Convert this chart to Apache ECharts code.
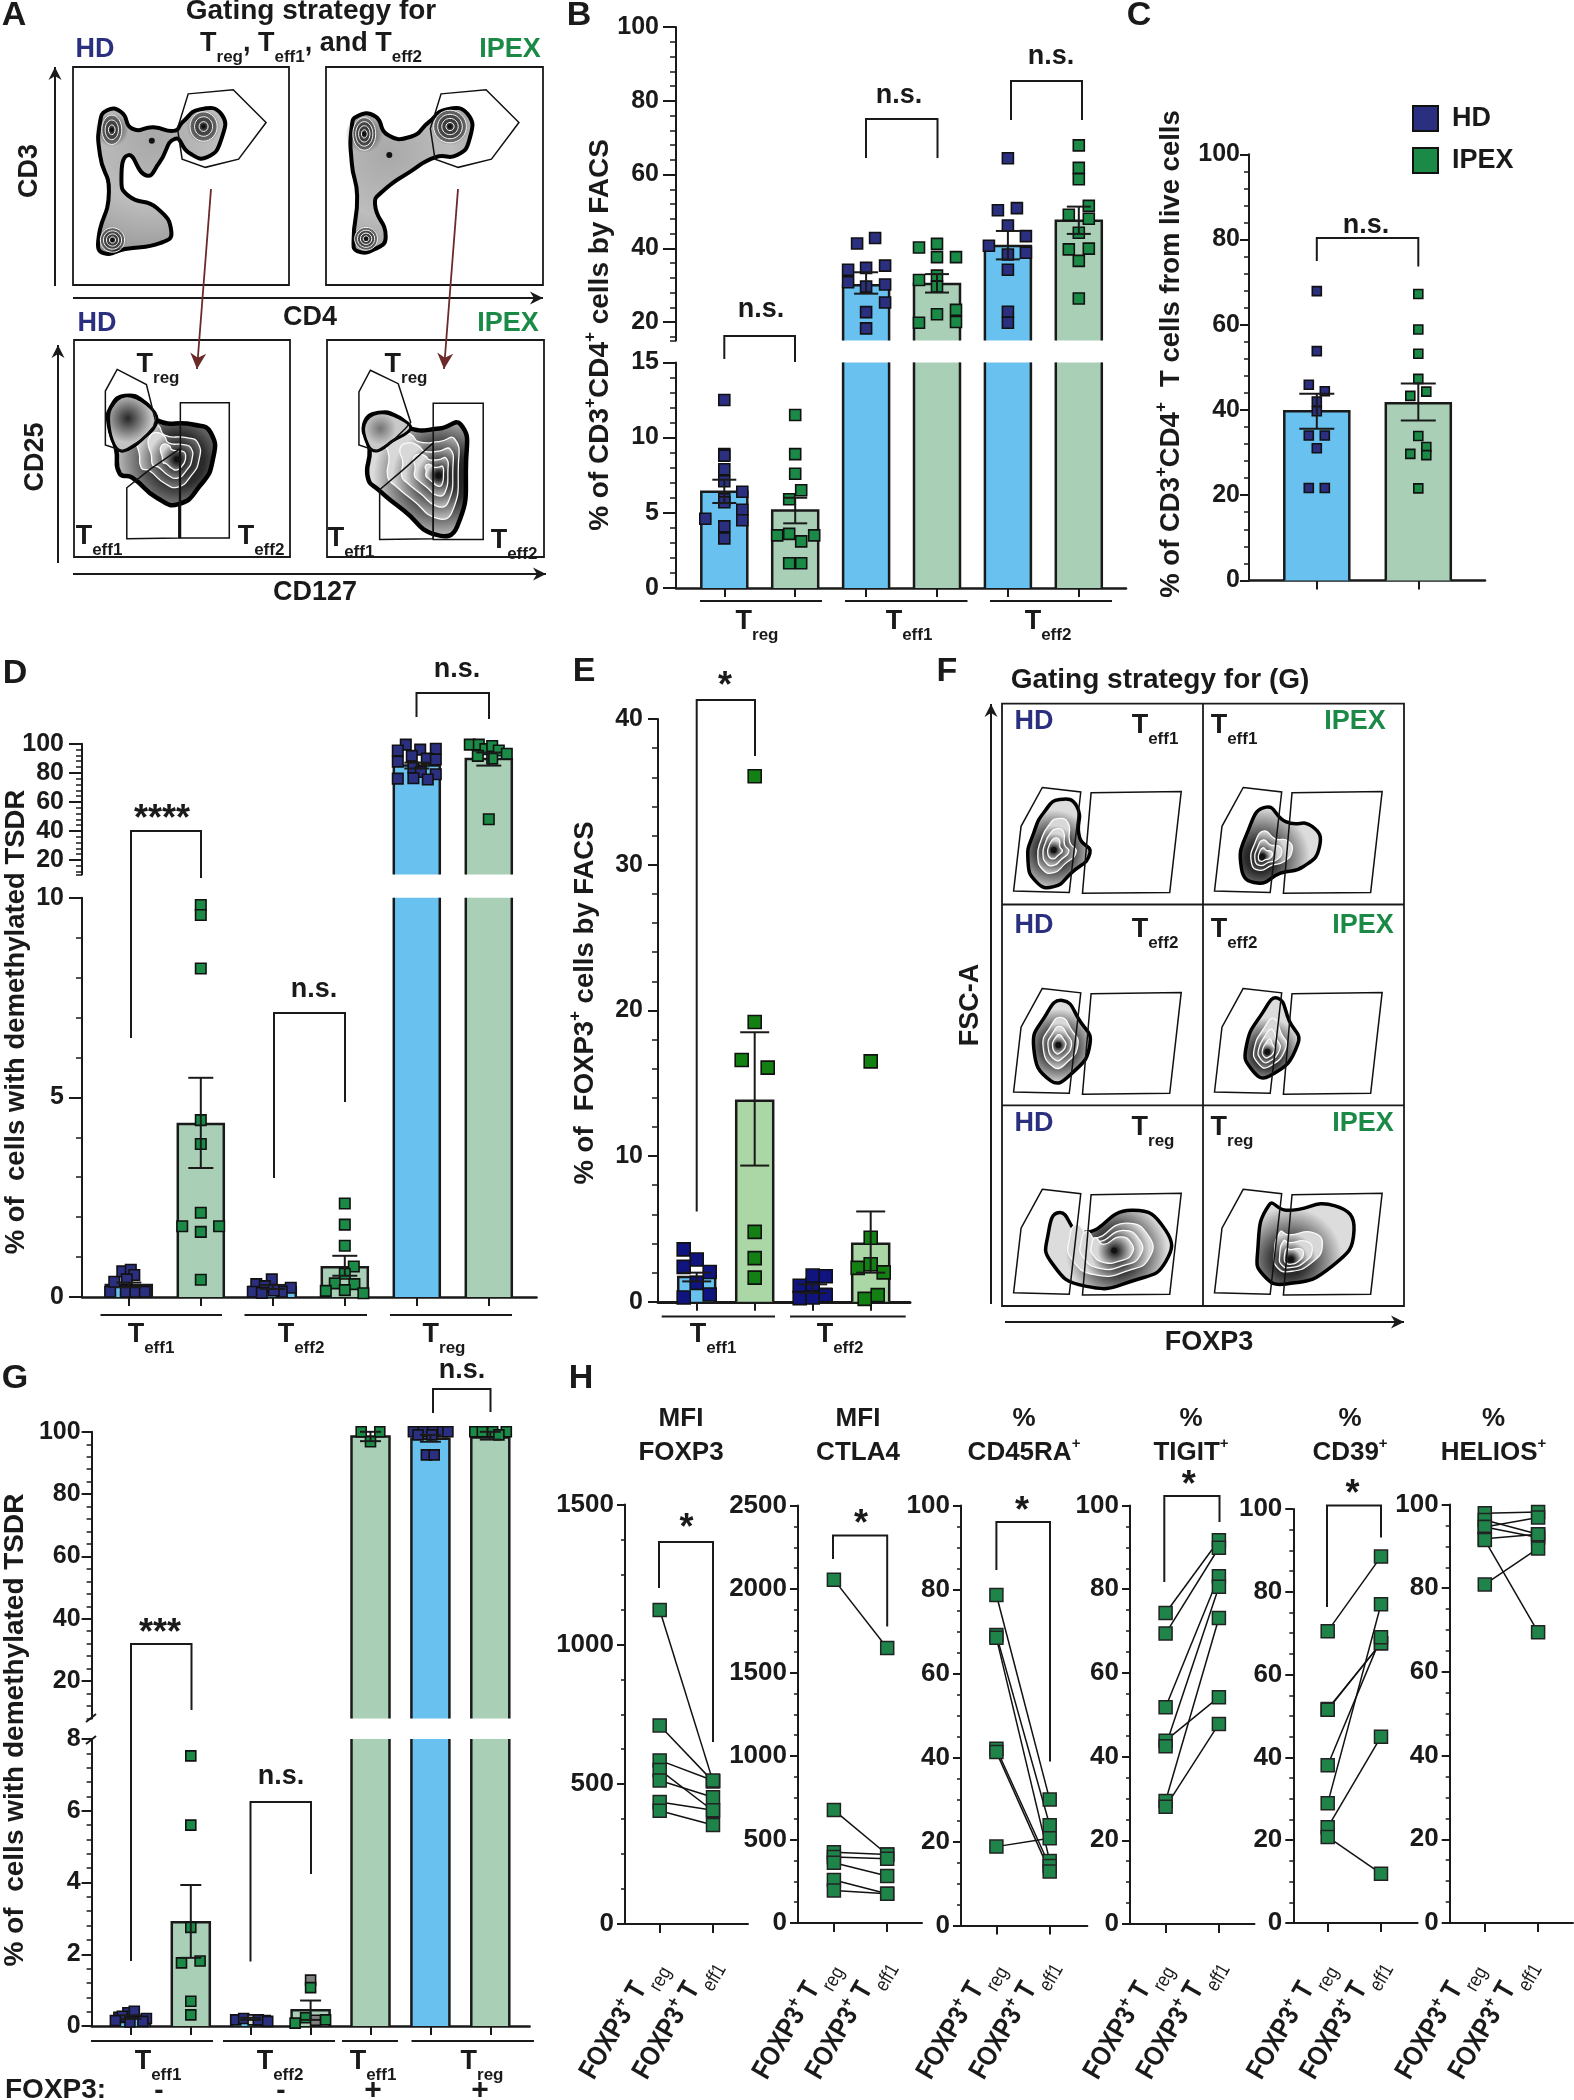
<!DOCTYPE html>
<html><head><meta charset="utf-8"><style>html,body{margin:0;padding:0;background:#fff}#c{width:1574px;height:2100px}</style>
<script src="https://cdn.jsdelivr.net/npm/echarts@6/dist/echarts.min.js"></script></head>
<body><div id="c"></div>
<script>
// ---------- data ----------
const B_Treg_HD=[12.5,8.9,8.8,7.9,7.1,5.9,5.7,6.4,5.2,4.5,4.6,4.1,3.3];
const B_Treg_HD_jit=[0,0,0,0,0,0,0,18,18,18,-19,0,0];
const B_Treg_IPEX=[11.5,8.9,7.6,6.5,5.9,3.5,3.6,3.5,3.1,1.65,1.65];
const B_Treg_IPEX_jit=[0,0,0,6,-6,-18,-6,19,6,-6,6];
const B_Teff1_HD=[41.3,42.8,34.2,34.7,35.3,30.8,29.6,30.2,25.3,22.7,18.3];
const B_Teff1_HD_jit=[-9,9,-18,0,19,-18,0,19,19,0,0];
const B_Teff1_IPEX=[40.2,41.2,37.6,37.6,32.6,31.4,29.6,23.3,22.1,20,19.8];
const B_Teff1_IPEX_jit=[-18,0,0,19,0,-18,0,19,0,19,-18];
const B_Teff2_HD=[64.4,50.3,50.9,46.2,43.3,40.7,38.8,38.3,34.2,22.8,19.8];
const B_Teff2_HD_jit=[0,-10,9,0,18,-19,18,0,0,0,0];
const B_Teff2_IPEX=[67.9,61.8,58.7,51.5,49.1,48,44.2,39.7,39.9,36.6,26.4];
const B_Teff2_IPEX_jit=[0,0,0,10,-10,10,0,-10,10,0,0];
const B_stats=[[6.4,7.2,5.65],[5.16,6,4.3],[30,33.5,27.7],[30.3,33,28],[40.6,44.7,37],[47.5,51.3,43.9]];

const C_HD=[67.9,53.8,45.9,44.4,42,39.7,34,34,31,21.7,21.7];
const C_HD_jit=[0,0,-8,8,0,0,-8,8,0,-8,8];
const C_IPEX=[67.2,58.9,53.2,47.3,44.3,43.3,33.9,31.3,29.7,29.4,21.6];
const C_IPEX_jit=[0,0,0,0,8,-8,0,8,-8,8,0];
const C_stats=[[39.7,43.8,35.6],[41.6,46.2,37.5]];

const D_Teff1_HD=[.13,.38,.64,.68,.55,.44,.13,.13,.13];
const D_Teff1_HD_jit=[-18.6,-14.5,-6.5,2,5.5,-2,-3,6.5,16];
const D_Teff1_IPEX=[9.82,9.57,8.23,4.43,3.83,2.11,1.77,1.77,1.63,.43];
const D_Teff1_IPEX_jit=[0,0,0,0,0,0,-18.6,18.3,0,0];
const D_Teff2_HD=[.32,.44,.27,.23,.13,.1,.13,.16];
const D_Teff2_HD_jit=[-16.5,-1,-8,18,-20,-11,9,1];
const D_Teff2_IPEX=[2.34,1.81,1.28,.76,.58,.34,.32,.17,.15,.09];
const D_Teff2_IPEX_jit=[0,0,0,9,0,-10,9.6,0,-19,18.6];
const D_Treg_HD=[99.4,95.4,96,96.6,91.7,87.7,89.8,89.2,83.7,80.6,79,76,76.3,75.4];
const D_Treg_HD_jit=[-11,-19,3.4,19,-5,-19,10,19,-3.4,4,19,-19,-3.4,11];
const D_Treg_IPEX=[99.4,99.4,96.3,98.5,95.4,93.2,91.7,89.8,48];
const D_Treg_IPEX_jit=[-19,-10,-3.4,3.4,10,18,-11,3.4,0];
const D_stats=[[.3,.36,.24],[4.33,5.49,3.23],[.25,.3,.2],[.74,1.03,.53],[85,87,83],[89.5,94,85]];

const E_Teff1_HD=[3.6,2.9,2.4,2.05,1.3,.3,.5];
const E_Teff1_HD_jit=[-13,0,-13,13,0,-13,13];
const E_Teff1_IPEX=[36.07,19.2,16.6,16.07,4.8,3,1.66];
const E_Teff1_IPEX_jit=[0,0,-13,13,0,0,0];
const E_Teff2_HD=[1.1,1.2,1.75,1.8,.25,.45,.3];
const E_Teff2_HD_jit=[-13,0,13,0,-13,13,0];
const E_Teff2_IPEX=[16.5,4.4,2.33,2.58,2.02,.46,.2];
const E_Teff2_IPEX_jit=[0,0,-13,0,13,7,-6];
const E_stats=[[1.7,2.0,1.4],[13.8,18.5,9.35],[.9,1.2,.6],[3.99,6.2,2]];

const G_Teff1_HD=[.24,.37,.41,.27,.21,.11,.13,.15];
const G_Teff1_HD_jit=[-12,-3,3.4,-8.6,15.5,-1,12,-15.5];
const G_Teff1_IPEX=[7.53,5.6,2.75,1.81,1.76,.69,.31];
const G_Teff1_IPEX_jit=[0,0,0,9.3,-9.3,0,0];
const G_Teff2_HD=[.17,.21,.17,.15,.17,.13];
const G_Teff2_HD_jit=[-15,-7,2.4,14.5,7.6,17];
const G_Teff2_IPEX=[1.28,1.07,.23,.08,.16,.17];
const G_Teff2_IPEX_jit=[0,0,-5,-15.5,5,15];
const G_Teff1p_IPEX=[100,100,96.8];
const G_Teff1p_IPEX_jit=[-9.3,9.3,0];
const G_Treg_HD=[100,100,100,100,100,99,99,92.6,92.6];
const G_Treg_HD_jit=[-17,-7,2.4,12.4,17.5,-12.4,1.4,-4,3.8];
const G_Treg_IPEX=[100,100,100,100,99];
const G_Treg_IPEX_jit=[-15.5,-8,2.4,16,8.6];
const G_stats=[[.25,.3,.2],[2.89,3.93,1.9],[.2,.23,.17],[.44,.71,.17],[98.5,100,97],[97.8,99,96.8],[98.2,100,97.5]];

const H_FOXP3_Treg=[1123,710,585,551,513,436,405];
const H_FOXP3_Teff1=[510,510,513,405,453,407,354];
const H_CTLA4_Treg=[2056,676,424,395,361,258,195];
const H_CTLA4_Teff1=[1647,410,410,385,281,175,175];
const H_CD45RA_Treg=[78.7,69.2,68.5,42.1,41.3,18.8];
const H_CD45RA_Teff1=[30,23.9,15.4,14.2,12.9,20.8];
const H_TIGIT_Treg=[74.3,69.4,51.8,43.8,42.5,29.4,28];
const H_TIGIT_Teff1=[91.7,89.9,83.1,54.2,80.6,73.1,47.8];
const H_CD39_Treg=[70.5,51.7,51.5,38.1,28.9,23.1,20.8];
const H_CD39_Teff1=[88.5,67.6,67.6,69,77,45,11.9];
const H_HELIOS_Treg=[97.9,96.3,94.6,94.6,91.8,91.5,80.9];
const H_HELIOS_Teff1=[98.2,92.9,96.9,92.1,92.9,69.5,89.5];

const ticks20=[20,40,60,80,100], ticks0_100=[0,20,40,60,80,100];
const FONT='"Liberation Sans",Arial,sans-serif', INK='#1a1a1a';
const BLUE='#2b2f7f', GREEN='#1b8a47';
const BAR={HD:'#68c1ef',IPEX:'#a9d0b6'};
const range=(a,b,s,skip)=>{const r=[];for(let v=a;v<=b+1e-9;v+=s){const q=+v.toFixed(3);if(!skip||Math.abs(q/skip-Math.round(q/skip))>1e-6)r.push(q)}return r};

// ---------- option builders ----------
const grid=[],xAxis=[],yAxis=[],series=[];
const lineS={color:INK,width:2};
function axes(p,seg,xticks){
  const gi=grid.length;
  grid.push({left:p.left,width:p.right-p.left,top:seg.top,height:seg.bottom-seg.top});
  const xmin=(p.left-p.c0)/p.band,xmax=(p.right-p.c0)/p.band;
  xAxis.push({type:'value',gridIndex:gi,min:xmin,max:xmax,position:'bottom',
    axisLine:{show:!!seg.base,onZero:false,lineStyle:{color:INK,width:p.baseW||2.5}},
    axisTick:{show:!!seg.base,length:9,customValues:xticks,lineStyle:{color:INK,width:2}},
    axisLabel:{show:false},splitLine:{show:false}});
  const ya=yAxis.length;
  yAxis.push({type:'value',gridIndex:gi,min:seg.min,max:seg.max,position:'left',
    axisLine:{show:true,onZero:false,lineStyle:lineS},
    axisTick:{show:true,length:p.tick||13,customValues:seg.majors,lineStyle:lineS},
    axisLabel:{show:true,customValues:seg.majors,margin:p.margin||17,fontSize:p.fs||25,fontWeight:'bold',fontFamily:FONT,color:INK,hideOverlap:false,
      padding:[p.lpad||0,0,0,0],formatter:v=>String(v)},
    splitLine:{show:false}});
  yAxis.push({type:'value',gridIndex:gi,min:seg.min,max:seg.max,position:'left',
    axisLine:{show:false,onZero:false},
    axisTick:{show:true,length:p.mtick||6,customValues:seg.minors,lineStyle:{color:INK,width:1.5}},
    axisLabel:{show:false},splitLine:{show:false}});
  return {gi,ya};
}
function barPanel(p){
  const xticks=p.groups.map((_,i)=>i);
  p.segs.forEach(seg=>{
    const {gi,ya}=axes(p,seg,xticks);
    const inSeg=v=>v>=seg.min&&v<=seg.max;
    const ax={xAxisIndex:gi,yAxisIndex:ya};
    series.push({type:'bar',...ax,barWidth:p.barW,clip:true,silent:true,z:2,name:'bars',
      data:p.groups.map((g,i)=>({value:[i,g.stat[0]],itemStyle:{color:(p.barCol||BAR)[g.kind]}}))});
    series.push({type:'custom',...ax,z:3,clip:false,silent:true,name:'bar outline',
      data:p.groups.map((g,i)=>[i,g.stat[0]]),encode:{x:0,y:1},
      renderItem:(params,api)=>{
        const c=api.coord([api.value(0),api.value(1)]),cs=params.coordSys,b=cs.y+cs.height,h=p.barW/2;
        const st={fill:null,stroke:INK,lineWidth:2.5};
        if(c[1]>b)return null;
        if(c[1]>=cs.y)return {type:'polyline',shape:{points:[[c[0]-h,b],[c[0]-h,c[1]],[c[0]+h,c[1]],[c[0]+h,b]]},style:st};
        return {type:'group',children:[
          {type:'line',shape:{x1:c[0]-h,y1:cs.y,x2:c[0]-h,y2:b},style:st},
          {type:'line',shape:{x1:c[0]+h,y1:cs.y,x2:c[0]+h,y2:b},style:st}]};
      }});
    ['HD','IPEX'].forEach(kind=>{
      const pts=[];
      p.groups.forEach((g,i)=>{if(g.kind===kind)g.v.forEach((v,k)=>{if(inSeg(v)){
        const d={value:[i+g.j[k]/p.band,v]};
        if(g.grey&&g.grey[k])d.itemStyle={color:g.grey[k]};
        pts.push(d)}})});
      if(pts.length)series.push({type:'scatter',name:kind,...ax,clip:false,z:4,symbol:'rect',symbolSize:p.ms,data:pts,silent:true,
        itemStyle:{color:kind==='HD'?(p.colHD||BLUE):(p.colIPEX||GREEN),borderColor:'#111',borderWidth:1.6,opacity:1}});
    });
    series.push({type:'custom',...ax,z:5,clip:false,silent:true,name:'mean and SEM',
      data:p.groups.map((g,i)=>[i,g.stat[0],g.stat[1],g.stat[2]]).filter(d=>inSeg(d[1])),encode:{x:0,y:[1,2,3]},
      renderItem:(params,api)=>{
        const hi=api.coord([api.value(0),api.value(2)]),lo=api.coord([api.value(0),api.value(3)]),w=p.cap/2;
        const st={stroke:INK,lineWidth:2,fill:null};
        return {type:'group',children:[
          {type:'line',shape:{x1:hi[0],y1:hi[1],x2:lo[0],y2:lo[1]},style:st},
          {type:'line',shape:{x1:hi[0]-w,y1:hi[1],x2:hi[0]+w,y2:hi[1]},style:st},
          {type:'line',shape:{x1:lo[0]-w,y1:lo[1],x2:lo[0]+w,y2:lo[1]},style:st}]};
      }});
  });
}
function pairPanel(p,a,b){
  const seg={top:p.top,bottom:p.bottom,min:0,max:p.max,majors:p.majors,minors:p.minors,base:true};
  const {gi,ya}=axes(p,seg,[0,1]);
  a.forEach((v,i)=>series.push({type:'line',name:p.name+' donor '+(i+1),xAxisIndex:gi,yAxisIndex:ya,clip:false,silent:true,z:3,
    data:[[0,v],[1,b[i]]],symbol:'rect',symbolSize:13,showSymbol:true,showAllSymbol:true,
    lineStyle:{color:'#111',width:1.5},itemStyle:{color:'#1e8449',borderColor:'#222',borderWidth:1.5}}));
}
const grp=(kind,v,j,stat,grey)=>({kind,v,j,stat,grey});

barPanel({left:676,right:1126,c0:724.3,band:70.9,barW:46,ms:11,cap:24,lpad:4,
  segs:[{top:27,bottom:340.5,min:15,max:100,majors:ticks20,minors:[15].concat(range(16,96,4,20))},
        {top:362.4,bottom:588,min:0,max:15,majors:[0,5,10,15],minors:range(1,14,1,5),base:true}],
  groups:[grp('HD',B_Treg_HD,B_Treg_HD_jit,B_stats[0]),grp('IPEX',B_Treg_IPEX,B_Treg_IPEX_jit,B_stats[1]),
    grp('HD',B_Teff1_HD,B_Teff1_HD_jit,B_stats[2]),grp('IPEX',B_Teff1_IPEX,B_Teff1_IPEX_jit,B_stats[3]),
    grp('HD',B_Teff2_HD,B_Teff2_HD_jit,B_stats[4]),grp('IPEX',B_Teff2_IPEX,B_Teff2_IPEX_jit,B_stats[5])]});
barPanel({left:1249,right:1485,c0:1316.8,band:101.5,barW:65,ms:9,cap:35,tick:9,mtick:5,margin:9,lpad:6,
  segs:[{top:154.3,bottom:580.4,min:0,max:100,majors:ticks0_100,minors:range(4,96,4,20),base:true}],
  groups:[grp('HD',C_HD,C_HD_jit,C_stats[0]),grp('IPEX',C_IPEX,C_IPEX_jit,C_stats[1])]});
barPanel({left:82,right:536.5,c0:128.8,band:72,barW:46,ms:10.5,cap:25,margin:18,
  segs:[{top:743.8,bottom:874.5,min:10,max:100,majors:ticks20,minors:[10].concat(range(12,96,4,20))},
        {top:897.8,bottom:1296.9,min:0,max:10,majors:[0,5,10],minors:range(1,9,1,5),base:true}],
  groups:[grp('HD',D_Teff1_HD,D_Teff1_HD_jit,D_stats[0]),grp('IPEX',D_Teff1_IPEX,D_Teff1_IPEX_jit,D_stats[1]),
    grp('HD',D_Teff2_HD,D_Teff2_HD_jit,D_stats[2]),grp('IPEX',D_Teff2_IPEX,D_Teff2_IPEX_jit,D_stats[3]),
    grp('HD',D_Treg_HD,D_Treg_HD_jit,D_stats[4]),grp('IPEX',D_Treg_IPEX,D_Treg_IPEX_jit,D_stats[5])]});
barPanel({left:658,right:910,c0:696.7,band:58,barW:37,ms:13,cap:29,tick:10,margin:15,baseW:3,colHD:'#10147f',colIPEX:'#138013',
  barCol:{HD:'#68c1ef',IPEX:'#aad7a5'},
  segs:[{top:719,bottom:1301.8,min:0,max:40,majors:[0,10,20,30,40],minors:range(2,38,2,10),base:true}],
  groups:[grp('HD',E_Teff1_HD,E_Teff1_HD_jit,E_stats[0]),grp('IPEX',E_Teff1_IPEX,E_Teff1_IPEX_jit,E_stats[1]),
    grp('HD',E_Teff2_HD,E_Teff2_HD_jit,E_stats[2]),grp('IPEX',E_Teff2_IPEX,E_Teff2_IPEX_jit,E_stats[3])]});
barPanel({left:91.6,right:529.6,c0:130.9,band:59.9,barW:38,ms:10,cap:21,tick:10,mtick:5,margin:11,
  segs:[{top:1431.8,bottom:1718.4,min:8,max:100,majors:ticks20,minors:range(8,96,4,20)},
        {top:1739,bottom:2026,min:0,max:8,majors:[0,2,4,6,8],minors:range(.4,7.6,.4,2),base:true}],
  groups:[grp('HD',G_Teff1_HD,G_Teff1_HD_jit,G_stats[0]),grp('IPEX',G_Teff1_IPEX,G_Teff1_IPEX_jit,G_stats[1]),
    grp('HD',G_Teff2_HD,G_Teff2_HD_jit,G_stats[2],{2:'#d8d8d8'}),grp('IPEX',G_Teff2_IPEX,G_Teff2_IPEX_jit,G_stats[3],{0:'#808080',4:'#808080'}),
    grp('IPEX',G_Teff1p_IPEX,G_Teff1p_IPEX_jit,G_stats[4]),grp('HD',G_Treg_HD,G_Treg_HD_jit,G_stats[5]),grp('IPEX',G_Treg_IPEX,G_Treg_IPEX_jit,G_stats[6])]});

const m1500=range(125,1375,125,500), m2500=range(125,2375,125,500), m100=range(5,95,5,20);
const hp={band:53.3,tick:8,mtick:4,margin:11,fs:26,baseW:2,lpad:4};
pairPanel({...hp,name:'FOXP3',left:625,right:748,c0:659.7,top:1504.5,bottom:1924,max:1500,majors:[0,500,1000,1500],minors:m1500},H_FOXP3_Treg,H_FOXP3_Teff1);
pairPanel({...hp,name:'CTLA4',left:798,right:922,c0:833.9,top:1505.5,bottom:1923,max:2500,majors:[0,500,1000,1500,2000,2500],minors:m2500},H_CTLA4_Treg,H_CTLA4_Teff1);
pairPanel({...hp,name:'CD45RA',left:961,right:1087.4,c0:996.4,top:1505.5,bottom:1925.6,max:100,majors:ticks0_100,minors:m100},H_CD45RA_Treg,H_CD45RA_Teff1);
pairPanel({...hp,name:'TIGIT',left:1130,right:1254.5,c0:1165.6,top:1505.5,bottom:1924,max:100,majors:ticks0_100,minors:m100},H_TIGIT_Treg,H_TIGIT_Teff1);
pairPanel({...hp,name:'CD39',left:1293.3,right:1417.6,c0:1327.7,top:1509,bottom:1923,max:100,majors:ticks0_100,minors:m100},H_CD39_Treg,H_CD39_Teff1);
pairPanel({...hp,name:'HELIOS',left:1449.7,right:1573,c0:1484.8,top:1504.5,bottom:1923,max:100,majors:ticks0_100,minors:m100},H_HELIOS_Treg,H_HELIOS_Teff1);

// ---------- annotations ----------
const G=[];
const Z=20;
function tx(x,y,text,o={}){
  G.push({type:'text',x,y,rotation:o.rot||0,scaleX:o.scaleX||1,z:Z+2,silent:true,style:{text,fontSize:o.size||25,fontWeight:o.weight||'bold',fontFamily:FONT,
    fill:o.color||INK,align:o.align||'center',verticalAlign:o.va||'middle',rich:o.rich}});
}
const richOf=(size,subS,color,weight)=>({
  b:{fontSize:size,fontWeight:weight||'bold',fontFamily:FONT,fill:color||INK},
  s:{fontSize:subS,fontWeight:weight||'bold',fontFamily:FONT,fill:color||INK,padding:[Math.round(size*.95),0,0,0]},
  u:{fontSize:subS,fontWeight:weight||'bold',fontFamily:FONT,fill:color||INK,padding:[0,0,Math.round(size*.7),0]}});
function Tsub(x,y,sub,o={}){const size=o.size||27;tx(x,y,`{b|T}{s|${sub}}`,{...o,rich:richOf(size,o.sub||17)})}
function ln(pts,w,col){G.push({type:'polyline',z:Z,silent:true,shape:{points:pts},style:{stroke:col||INK,lineWidth:w||2,fill:null}})}
function bracket(x1,x2,top,yl,yr,label,lx,ly,o={}){ln([[x1,yl],[x1,top],[x2,top],[x2,yr]],2);tx(lx,ly,label,{size:label[0]==='n'?27:36,...o})}
function arrow(x1,y1,x2,y2,col,w,h){ln([[x1,y1],[x2,y2]],w||2,col);const a=Math.atan2(y2-y1,x2-x1),L=h||13,W=L*.5;
  G.push({type:'polygon',z:Z,silent:true,shape:{points:[[x2,y2],[x2-L*Math.cos(a)+W*Math.sin(a),y2-L*Math.sin(a)-W*Math.cos(a)],[x2-L*.7*Math.cos(a),y2-L*.7*Math.sin(a)],[x2-L*Math.cos(a)-W*Math.sin(a),y2-L*Math.sin(a)+W*Math.cos(a)]]},style:{fill:col||INK}})}
function box(x1,y1,x2,y2,w){G.push({type:'rect',z:Z-2,silent:true,shape:{x:x1,y:y1,width:x2-x1,height:y2-y1},style:{fill:'none',stroke:INK,lineWidth:w||1.8}})}
function poly(pts,w){G.push({type:'polygon',z:Z+1,silent:true,shape:{points:pts},style:{fill:'none',stroke:'#111',lineWidth:w||1.5}})}
function blob(pts,peakAt,scales,conv,outW,plain){
  const P=pts.map(conv),c=conv(peakAt);
  let x0=1e9,x1=-1e9,y0=1e9,y1=-1e9;P.forEach(p=>{x0=Math.min(x0,p[0]);x1=Math.max(x1,p[0]);y0=Math.min(y0,p[1]);y1=Math.max(y1,p[1])});
  const fr=(a,b,v)=>(v-a)/(b-a);
  const first=scales.length?scales[0]:.3;
  const stops=plain?[{offset:0,color:'#a8a8a8'},{offset:.5,color:'#bdbdbd'},{offset:1,color:'#8f8f8f'}]
    :[{offset:0,color:'#0d0d0d'},{offset:first*.6,color:'#2c2c2c'},{offset:1,color:'#dcdcdc'}];
  G.push({type:'polygon',z:Z-1,silent:true,shape:{points:P,smooth:.55},
    style:{fill:{type:'radial',x:fr(x0,x1,c[0]),y:fr(y0,y1,c[1]),r:plain?1:.62,colorStops:stops},stroke:'#000',lineWidth:outW||3.5}});
  scales.forEach((s,i)=>{
    const Q=P.map(p=>[c[0]+(p[0]-c[0])*s,c[1]+(p[1]-c[1])*s]);
    const nxt=scales[i+1]||.12;
    G.push({type:'polygon',z:Z-1,silent:true,shape:{points:Q,smooth:.55},
      style:{fill:{type:'radial',x:fr(x0,x1,c[0]),y:fr(y0,y1,c[1]),r:.62,colorStops:[{offset:0,color:'#0d0d0d'},{offset:(nxt/s)*.6,color:'#333'},{offset:1,color:'#d8d8d8'}]},stroke:'#fafafa',lineWidth:1.3}});
  });
  G.push({type:'circle',z:Z-1,silent:true,shape:{cx:c[0],cy:c[1],r:3},style:{fill:'#111'}});
}
function halo(cx,cy,r,col){
  G.push({type:'circle',z:Z-1,silent:true,shape:{cx,cy,r},style:{fill:{type:'radial',x:.5,y:.5,r:.5,colorStops:[{offset:0,color:`rgba(${col},.95)`},{offset:1,color:`rgba(${col},0)`}]}}});
}
function peak(cx,cy,rx,ry,conv,n){
  const c=conv([cx,cy]),e=conv([cx+rx,cy+ry]);const R=[e[0]-c[0],e[1]-c[1]];
  halo(c[0],c[1],Math.max(R[0],R[1])*1.15,'25,25,25');
  for(let i=0;i<n;i++){const s=1-i/n;
    G.push({type:'ellipse',z:Z-1,silent:true,shape:{cx:c[0],cy:c[1],rx:R[0]*s,ry:R[1]*s},style:{fill:'rgba(60,60,60,.55)',stroke:'#f5f5f5',lineWidth:1}})}
  G.push({type:'circle',z:Z-1,silent:true,shape:{cx:c[0],cy:c[1],r:2.2},style:{fill:'#111'}});
}

// panel letters
[['A',14,16],['B',579,16],['C',1139,16],['D',15,674],['E',584,672],['F',947,672],['G',15,1379],['H',581,1379]].forEach(a=>tx(a[1],a[2],a[0],{size:34}));

// --- A: gating plots
const za=p=>[p[0]/2.8,p[1]/2.45];
const zaL=l=>l.map(za);
tx(311,11,'Gating strategy for',{size:28});
tx(311,44,'{b|T}{s|reg}{b|, T}{s|eff1}{b|, and T}{s|eff2}',{rich:richOf(27,17)});
tx(95,50,'HD',{size:27,color:BLUE});tx(510,50,'IPEX',{size:27,color:GREEN});
tx(97,324,'HD',{size:27,color:BLUE});tx(508,324,'IPEX',{size:27,color:GREEN});
box(73,67,289,285);box(326,67,543,285);box(74,340,290,557);box(327,340,544,557);
arrow(55,286,55,67);arrow(73,298,543,298);arrow(58,563,58,345);arrow(73,574,546,574);
tx(30,171,'CD3',{rot:Math.PI/2,size:27});tx(310,318,'CD4',{size:27});tx(36,457,'CD25',{rot:Math.PI/2,size:27});tx(315,593,'CD127',{size:27});
blob([[280,300],[300,270],[340,275],[370,315],[430,312],[490,320],[510,300],[560,268],[620,280],[620,340],[580,385],[530,375],[490,340],[445,400],[410,430],[360,380],[340,440],[360,480],[440,510],[480,570],[450,595],[350,610],[290,620],[275,590],[305,470],[280,380]],[425,345],[],za,4,true);
peak(313,318,28,36,za,3);peak(570,310,38,36,za,3);peak(315,588,34,30,za,4);
poly(zaL([[527,230],[653,220],[745,300],[668,390],[575,410],[510,390],[497,315]]));
blob([[985,310],[1000,285],[1050,285],[1085,330],[1150,335],[1200,300],[1250,268],[1310,280],[1315,340],[1280,380],[1220,385],[1150,420],[1070,470],[1050,500],[1080,580],[1050,610],[1000,615],[990,590],[1000,480],[985,400]],[1090,380],[],za,4,true);
peak(1020,328,32,40,za,4);peak(1260,310,46,40,za,4);peak(1025,585,32,28,za,4);
poly(zaL([[1235,230],[1361,220],[1453,300],[1376,390],[1283,410],[1218,390],[1205,315]]));
arrow(211,189,197,369,'#6b2a2a',1.8,16);arrow(458,189,444,369,'#6b2a2a',1.8,16);
blob([[310,1000],[350,970],[410,990],[440,1030],[540,1040],[590,1060],[595,1130],[560,1190],[500,1235],[440,1220],[370,1170],[335,1160],[325,1100],[305,1040]],[495,1125],[.62,.42,.24],za,4.5);
G.push({type:'polygon',z:Z-1,silent:true,shape:{points:zaL([[310,1000],[350,970],[410,990],[440,1030],[400,1075],[345,1105],[320,1090],[305,1040]]),smooth:.4},style:{fill:'#c4c4c4',stroke:'#000',lineWidth:3}});
halo(358/2.8,1025/2.45,24,'30,30,30');
poly(zaL([[328,905],[410,942],[435,1030],[430,1045],[400,1075],[345,1105],[295,1090],[295,958]]));
poly(zaL([[355,1195],[420,1150],[503,1100],[503,1318],[355,1320]]));
poly(zaL([[505,987],[642,987],[642,1318],[505,1318]]));
ln(zaL([[503,1230],[503,1318]]),3,'#000');
blob([[1020,1040],[1060,1012],[1120,1025],[1150,1050],[1230,1050],[1290,1040],[1305,1130],[1280,1290],[1220,1310],[1130,1250],[1060,1200],[1030,1170],[1035,1100]],[1228,1165],[.72,.52,.34,.18],za,4.5);
G.push({type:'polygon',z:Z-1,silent:true,shape:{points:zaL([[1020,1040],[1060,1012],[1120,1025],[1150,1050],[1100,1080],[1055,1105],[1030,1090]]),smooth:.4},style:{fill:'#c9c9c9',stroke:'#000',lineWidth:3}});
halo(1065/2.8,1050/2.45,16,'110,110,110');
poly(zaL([[1037,907],[1115,940],[1150,1035],[1135,1050],[1100,1080],[1055,1105],[1005,1090],[1005,960]]));
poly(zaL([[1063,1200],[1130,1150],[1213,1085],[1213,1320],[1063,1322]]));
poly(zaL([[1213,988],[1353,988],[1353,1322],[1213,1322]]));
Tsub(158,365,'reg');Tsub(99,537,'eff1');Tsub(261,537,'eff2');Tsub(406,365,'reg');Tsub(351,539,'eff1');Tsub(514,541,'eff2');

// --- B
tx(600,335,'{b|% of CD3}{u|+}{b|CD4}{u|+}{b| cells by FACS}',{rot:Math.PI/2,rich:richOf(28,17)});
bracket(724.3,795,336,359,362,'n.s.',761,310);
bracket(866,937.5,119,158,158,'n.s.',899,96);
bracket(1011,1082,81,120,120,'n.s.',1051,57);
ln([[700,601],[822,601]],2);ln([[845,601],[967.5,601]],2);ln([[990,601],[1112,601]],2);
Tsub(757,622,'reg');Tsub(909,622,'eff1');Tsub(1048,622,'eff2');
// --- C
tx(1171,354,'{b|% of CD3}{u|+}{b|CD4}{u|+}{b|  T cells from live cells}',{rot:Math.PI/2,rich:richOf(27.5,17)});
bracket(1316.8,1418.3,238,261,266.5,'n.s.',1366,226);
// --- D
tx(16,1022,'% of  cells with demethylated TSDR',{rot:Math.PI/2,size:27.5});
bracket(131,201,831,1038,878,'****',162,820);
bracket(274,345,1013,1178,1102,'n.s.',314,990);
bracket(416.5,489,693,717,719,'n.s.',457,670);
ln([[100.5,1315],[222,1315]],2);ln([[244.5,1315],[367,1315]],2);ln([[390,1315],[512,1315]],2);
Tsub(151,1335,'eff1');Tsub(301,1335,'eff2');Tsub(444,1335,'reg');
// --- E
tx(585,1003,'{b|% of  FOXP3}{u|+}{b| cells by FACS}',{rot:Math.PI/2,rich:richOf(27.5,17)});
bracket(696.7,755,700,1211.6,756,'*',725,687);
ln([[661.7,1316.5],[775,1316.5]],2);ln([[790,1316.5],[905.7,1316.5]],2);
Tsub(713,1335,'eff1');Tsub(840,1335,'eff2');
// --- F
const zf=p=>[540+p[0]/1.742,650+p[1]/2.24];
tx(1160,680,'Gating strategy for (G)',{size:28});
box(1002,703.6,1404,1306);ln([[1203,703.6],[1203,1306]],1.8);ln([[1002,904.5],[1404,904.5]],1.8);ln([[1002,1105.4],[1404,1105.4]],1.8);
arrow(991,1304,991,704);arrow(1005,1322,1404,1322);
tx(971,1005,'FSC-A',{rot:Math.PI/2,size:27});tx(1209,1343,'FOXP3',{size:27});
[[722,'eff1','eff1',1155,1234],[926,'eff2','eff2',1155,1234],[1124,'reg','reg',1153,1232]].forEach((r,i)=>{
  tx(1034,r[0],'HD',{color:BLUE,size:27});tx(i?1363:1355,r[0],'IPEX',{color:GREEN,size:27});
  Tsub(r[3],r[0]+4,r[1]);Tsub(r[4],r[0]+4,r[2]);
});
const gL=[[875,308],[942,318],[922,543],[825,540],[838,395]],gR=[[960,320],[1117,317],[1097,543],[945,545]];
const fshift=(l,dx,dy)=>l.map(p=>[p[0]+dx,p[1]+dy]);
blob([[905,335],[935,350],[940,420],[958,455],[925,500],[895,530],[865,520],[850,470],[860,410],[880,360]],[895,448],[.62,.42,.24],zf,3.5);
blob([[1265,352],[1300,385],[1345,395],[1358,440],[1330,485],[1290,500],[1250,522],[1222,490],[1235,400]],[1258,463],[.52,.34,.18],zf,3.5);
blob([[910,785],[940,830],[958,883],[925,950],[890,965],[860,890],[880,820]],[903,885],[.62,.42,.24],zf,3.5);
blob([[1285,780],[1305,830],[1320,883],[1270,955],[1240,940],[1230,890],[1260,810]],[1267,900],[.62,.42,.24],zf,3.5);
blob([[905,1260],[945,1305],[1030,1255],[1090,1300],[1090,1370],[1040,1410],[950,1425],[890,1370],[885,1310]],[1000,1345],[.68,.5,.34],zf,3.5);
blob([[1270,1243],[1300,1255],[1385,1245],[1418,1300],[1380,1380],[1300,1420],[1260,1400],[1250,1350]],[1308,1365],[.5,.34,.2],zf,3.5);
[0,350].forEach(dx=>[0,450,900].forEach(dy=>{poly(fshift(gL,dx,dy).map(zf),1.5);poly(fshift(gR,dx,dy).map(zf),1.5)}));

// --- G
tx(15,1730,'% of  cells with demethylated TSDR',{rot:Math.PI/2,size:28});
bracket(131,191.5,1644,1961,1710,'***',160,1634);
bracket(250.5,311,1802,1961.5,1874,'n.s.',281,1777);
bracket(433,490.5,1389,1413,1412,'n.s.',462,1371);
ln([[86,1722],[96,1714]],2);ln([[86,1744],[96,1736]],2);
ln([[91,2041],[213,2041]],2);ln([[223,2041],[335,2041]],2);ln([[342,2041],[398,2041]],2);ln([[411.5,2041],[534,2041]],2);
Tsub(158,2062,'eff1');Tsub(280,2062,'eff2');Tsub(373,2062,'eff1');Tsub(482,2062,'reg');
tx(5,2090,'FOXP3:',{align:'left',size:28});
tx(159,2091,'-',{size:28});tx(281,2091,'-',{size:28});tx(373,2091,'+',{size:30});tx(480,2091,'+',{size:30});

// --- H
const hTitles=[[681,'MFI','FOXP3'],[858,'MFI','CTLA4'],[1024,'%','{b|CD45RA}{u|+}'],[1191,'%','{b|TIGIT}{u|+}'],[1350,'%','{b|CD39}{u|+}'],[1493.5,'%','{b|HELIOS}{u|+}']];
hTitles.forEach(t=>{tx(t[0],1419,t[1],{size:26});tx(t[0],1453,t[2],{size:26,rich:richOf(26,15)})});
bracket(659,713,1542,1588,1742,'*',686.5,1529);
bracket(833,887.2,1535.6,1559,1626.6,'*',861,1525);
bracket(996.4,1050,1522,1570,1761.5,'*',1022,1512);
bracket(1164.3,1219.5,1496,1582,1522,'*',1188.7,1486);
bracket(1327,1381,1505.5,1607,1537.6,'*',1352.5,1495);
const rot60=60*Math.PI/180;
const xLabelAnchor=[[587,640],[760,813],[924,977],[1091,1144],[1254.5,1307.5],[1403,1456]];
const richX={b:{fontSize:28,fontWeight:'bold',fontFamily:FONT,fill:INK},
  s:{fontSize:20,fontWeight:'normal',fontFamily:FONT,fill:INK,padding:[30,0,0,3]},u:{fontSize:18,fontWeight:'bold',fontFamily:FONT,fill:INK,padding:[0,0,16,0]}};
xLabelAnchor.forEach(a=>{
  tx(a[0],2077,'{b|FOXP3}{u|+}{b| T}{s|reg}',{rot:rot60,align:'left',rich:richX,scaleX:.84});
  tx(a[1],2077,'{b|FOXP3}{u|+}{b| T}{s|eff1}',{rot:rot60,align:'left',rich:richX,scaleX:.84});
});

const option={animation:false,backgroundColor:'#fff',grid,xAxis,yAxis,series,
  legend:{data:['HD','IPEX'],orient:'vertical',left:1407,top:100,itemWidth:25,itemHeight:25,itemGap:15,icon:'rect',selectedMode:false,
    textStyle:{fontSize:27,fontWeight:'bold',fontFamily:FONT,color:INK,padding:[0,0,0,9]}},
  graphic:{elements:G}};
const chart=echarts.init(document.getElementById('c'),null,{renderer:'canvas'});
chart.setOption(option);
</script></body></html>
